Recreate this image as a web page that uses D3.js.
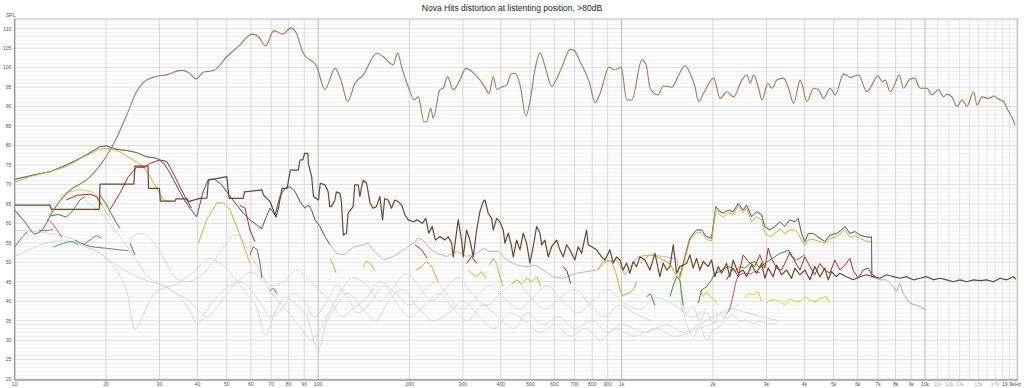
<!DOCTYPE html>
<html>
<head>
<meta charset="utf-8">
<script src="https://cdn.jsdelivr.net/npm/d3@7"></script>
<style>
  body { margin: 0; background: #fff; }
  svg { display: block; font-family: "Liberation Sans", Arial, sans-serif; }
</style>
</head>
<body>
<div id="chart"></div>
<script>
// ---- data (Hz, dB SPL) ----
const title = "Nova Hits distortion at listenting position, >80dB";
const yTicks = [20, 25, 30, 35, 40, 45, 50, 55, 60, 65, 70, 75, 80, 85, 90, 95, 100, 105, 110];
const xTickValues = [10, 20, 30, 40, 50, 60, 70, 80, 90, 100, 200, 300, 400, 500, 600, 700, 800, 900,
  1000, 2000, 3000, 4000, 5000, 6000, 7000, 8000, 9000, 10000, 11000, 12000, 13000, 15000, 17000];
const xTickLabels = ["10", "20", "30", "40", "50", "60", "70", "80", "90", "100", "200", "300", "400", "500",
  "600", "700", "800", "900", "1k", "2k", "3k", "4k", "5k", "6k", "7k", "8k", "9k", "10k", "11k", "12k", "13k", "15k", "17k"];
const endLabel = "19.9kHz";

const fundamental = [[10,63.4],[10.8,60.4],[11.67,57.3],[12.3,58.3],[13.4,63.4],[15.0,68.1],[17.7,71.9],[20.0,77.1],
  [21.8,82.4],[23.4,87.8],[25.2,93.8],[26.5,96.1],[28.6,97.5],[31.7,98.2],[35.5,99.3],[37.3,98.8],[39.6,97.1],
  [42.0,98.9],[45.1,99.2],[50.0,102.8],[55.2,105.8],[60.4,108.6],[63.5,108.0],[67.1,105.6],[71.5,109.5],[76.3,108.6],
  [81.3,110.2],[84.5,109.0],[89.3,103.7],[98.8,100.4],[105.3,94.4],[113.6,99.8],[118.9,96.8],[125.1,91.3],[132.3,96.0],
  [140.8,98.1],[155.8,103.7],[163.9,102.8],[176.8,100.7],[182.8,103.8],[188.4,100.2],[198.1,95.1],[207.4,91.7],
  [213.8,92.5],[223.2,86.1],[227.8,86.1],[234.9,89.6],[239.5,87.0],[251.9,94.3],[258.2,94.7],[267.1,97.7],[278.6,94.3],
  [293.1,96.8],[306.9,99.8],[324.4,98.7],[341.3,96.8],[354.6,95.0],[365.6,93.4],[377.7,97.7],[387.4,94.4],[402.4,95.0],
  [417.8,95.5],[434,98.5],[446,98.5],[463,95.5],[483.9,87.6],[500,91.7],[519,99.8],[539,103.8],[560,100.2],[589,95.1],
  [612,97.3],[636,100.2],[677,104.7],[695,104.5],[730,101.5],[782,96.4],[818,91.0],[850,93.4],[910,100.2],[948,99.4],
  [997,100.1],[1040,91.7],[1081,91.7],[1166,102.0],[1205,100.7],[1242,94.7],[1317,93.0],[1374,95.3],[1466,95.0],
  [1542,98.1],[1621,100.5],[1683,98.5],[1740,95.5],[1794,91.3],[1862,93.4],[2010,97.3],[2113,92.1],[2223,93.8],
  [2339,92.5],[2491,96.8],[2588,98.1],[2655,96.0],[2723,98.1],[2829,94.7],[2900,91.7],[3035,96.0],[3128,94.7],
  [3249,96.8],[3420,97.3],[3550,94.7],[3690,90.8],[3879,96.8],[4082,91.3],[4295,94.7],[4460,94.3],[4630,92.1],
  [4868,94.7],[5057,93.0],[5390,98.4],[5669,97.5],[6040,98.1],[6430,93.8],[6678,95.5],[6990,97.9],[7244,96.4],
  [7387,96.8],[7674,93.8],[7970,96.0],[8216,98.1],[8492,94.7],[8913,97.0],[9235,97.3],[9638,94.7],[10140,94.7],
  [10530,93.0],[11080,94.4],[11510,92.5],[11800,93.2],[12270,92.4],[12740,90.0],[13230,91.7],[13740,90.1],[14460,93.8],
  [14830,90.4],[15400,92.5],[16210,92.1],[16830,92.7],[17470,91.9],[18150,91.3],[18610,89.6],[19220,87.6],[19820,85.3]];

const noise = [[10,64.7],[13.07,64.7],[13.2,63.6],[19.0,63.6],[19.1,70.1],[24.7,70.1],[24.9,74.7],[27.5,74.7],[27.6,69.0],
  [30,69.0],[30.2,65.7],[33.7,65.7],[34,66.3],[37,66.3],[37.3,65.6],[40.8,66.4],[43.0,66.5],[43.5,71.1],[50,72.0],
  [50.9,66.4],[56.6,66.4],[57.2,68.1],[65.3,68.6],[66.0,67.3],[69.4,65.6],[72.6,61.6],[74,64],[76,69],[79,69],[81,73.7],
  [86,73.7],[87.2,76.3],[89,76.3],[90.3,78],[92.5,78],[92.8,75.4],[95.2,72],[96.5,66.9],[100.3,66],[101.6,70.3],
  [105.3,69.9],[107.9,68.1],[109.2,64.3],[110.5,64.3],[113.6,66],[114.8,68.1],[118,67.7],[119.3,65.6],[121,57],
  [124,57.5],[125.5,62.6],[130.4,64.3],[132,69.9],[135.5,69.9],[137.3,66.9],[139.1,69.4],[140.9,71.1],[144.4,70.3],
  [146.4,67.7],[148.3,65.2],[151.5,63.9],[155.6,64.3],[159.8,66.9],[163,60.9],[165.7,66.4],[170,66],[174.4,63.9],
  [178.9,66],[183.6,65.6],[188.4,64.7],[193.2,62.2],[198.1,60.9],[206.4,60.4],[211.7,60.9],[220.4,60],[226.2,61.3],
  [231.5,57.5],[237.6,59.2],[243.4,55.7],[251.9,56.6],[261.7,55.7],[268.3,56.6],[275.4,54.9],[278.7,51.4],[289.5,60.9],
  [297,55.7],[300.7,51.4],[308.5,58.3],[316.4,55.7],[324.4,51.4],[332.9,58.3],[341.3,63.0],[349.9,65.6],[354.5,66.0],
  [363.5,62.6],[373,61.3],[377.6,58.3],[387.4,61.3],[397.2,60.4],[407.3,58.3],[412.6,54.9],[423.1,57.5],[434.1,54.0],
  [439.5,51.4],[450.9,55.7],[462.4,53.2],[474.1,57.5],[486.4,54.9],[498.8,49.8],[511.4,54.0],[524.8,59.2],[538.1,57.5],
  [545.1,54.5],[558.9,55.7],[573.1,51.4],[588.1,54.0],[610.7,55.7],[626.2,53.2],[642.1,51.4],[658.9,54.5],[675.6,53.2],
  [701.6,50.6],[719.4,54.0],[738.2,52.3],[766.8,58.3],[776.2,54.5],[796.5,54.0],[827.3,53.2],[859.3,51.4],[881,50.6],
  [915.1,53.2],[938.4,49.8],[962.7,51.4],[987.2,50.6],[1012,48.0],[1039,49.8],[1065,47.2],[1092,50.2],[1120,48.9],
  [1149,51.4],[1194,50.6],[1240,48.0],[1288,52.3],[1337,46.3],[1371,49.8],[1407,48.0],[1443,48.9],[1480,54.5],
  [1518,47.2],[1556,48.9],[1637,49.7],[1679,51.9],[1721,48.5],[1766,51.0],[1811,48.0],[1858,50.2],[1929,48.9],
  [1979,50.6],[2029,46.3],[2082,48.9],[2135,47.2],[2217,49.7],[2273,46.3],[2332,50.6],[2423,47.2],[2516,48.0],
  [2580,46.3],[2681,49.3],[2784,47.2],[2893,49.7],[2966,45.9],[3042,48.5],[3159,46.3],[3241,49.3],[3366,46.8],
  [3496,48.0],[3632,45.9],[3725,48.5],[3868,46.8],[4018,48.0],[4173,45.5],[4333,48.9],[4502,46.3],[4676,48.5],
  [4796,45.5],[4919,47.6],[5108,46.3],[5239,47.2],[5511,46.3],[5796,45.5],[6098,46.3],[6415,46.8],[6748,46.3],
  [7098,45.9],[7467,46.8],[7856,46.3],[8264,45.9],[8693,46.3],[9145,45.5],[9621,45.9],[10120,46.3],[10646,45.5],
  [11200,45.9],[11782,45.5],[12394,45.0],[13038,45.5],[13716,45.0],[14429,45.5],[15179,45.3],[15965,45.5],
  [16805,45.0],[17676,45.9],[18594,45.5],[19559,46.3],[19900,45.6]];

const thd = [[10,71.3],[11.5,72.4],[13.1,73.3],[14.8,75.0],[16.8,77.1],[19.1,79.7],[20.1,79.9],[21.7,79.0],[23.4,78.7],
  [25.2,78.2],[27.2,77.1],[29.4,76.7],[30.9,75.6],[32.5,72.9],[34.2,69.6],[36.0,66.4],[37.8,63.9],[39.8,61.7],
  [41.8,68.2],[43.5,71.3],[45.7,71.3],[48.1,69.9],[49.9,68.2],[51.9,66.4],[53.9,64.7],[56.7,62.6],[59.6,60.9],
  [62.7,59.6],[65.1,58.7],[69.4,63.9],[72.1,62.2],[74.8,66.9],[77.7,69.0],[80.7,69.4],[83.9,68.2],[87.1,65.6],
  [90.5,63.9],[92.8,64.7],[95.2,63.4],[97.6,60.9],[101.4,59.2],[105.3,56.6],[109.4,54.5],[115.1,52.3],[121,51.9],
  [127.3,53.2],[132.3,54.0],[140.8,54.5],[146.3,54.9],[150,53.6],[153.9,52.8],[163.9,50.6],[176.8,51.5],[190.8,53.2],
  [205.8,54.9],[213.8,56.2],[222,55.7],[230.7,54.0],[245.7,52.3],[265.1,51.5],[285.9,52.8],[308.5,51.5],[332.9,52.3],
  [350,53.6],[368.3,52.8],[392.3,52.8],[417.8,50.6],[450.9,49.3],[486.4,48.9],[518.1,49.3],[551.9,48.0],[595.4,46.3],
  [642.1,45.9],[710.8,47.2],[766.6,47.6],[827.3,48.0],[892.3,50.2],[962.7,50.6],[1026,46.8],[1135,51.5],[1240,51.9],
  [1372,51.5],[1518,51.0],[1556,46.3],[1616,51.4],[1679,56.2],[1766,58.3],[1834,58.3],[1905,56.6],[1979,56.2],
  [2045,64.3],[2108,63.0],[2161,62.6],[2245,63.4],[2332,63.0],[2423,65.1],[2516,63.4],[2580,64.7],[2681,61.7],
  [2784,63.0],[2893,62.2],[2966,59.2],[3080,58.3],[3199,59.2],[3322,60.4],[3451,59.2],[3585,60.9],[3725,60.4],
  [3820,61.3],[3917,57.4],[4018,55.3],[4119,57.4],[4279,57.4],[4502,56.2],[4676,55.3],[4857,57.0],[5108,57.4],
  [5305,58.3],[5441,59.2],[5653,57.4],[5870,57.9],[6098,57.0],[6333,56.6],[6577,56.4],[6660,56.6],[6680,46.3]];
// THD is drawn faded between these two frequencies, as in the reference
const thdFadedFrom = 110, thdFadedTo = 1550;

const h2Segments = [
  [[10,70.5],[11.2,72.0],[13.1,73.3],[14.8,74.6],[16.8,77.0],[19.1,79.1],[20.6,79.2],[22.2,78.4],[24.6,76.3],
   [26.5,74.6],[27.9,72.0],[29.4,69.0],[30.9,66.0],[32.5,65.6]],
  [[40.3,54.9],[42.9,60.9],[46.3,65.2],[48.7,65.3],[51.2,63.5],[53.9,59.2],[56.7,54.5],[59.6,49.8]],
  [[109.4,51.0],[112.2,49.3],[114.6,47.2]],
  [[140.8,48.9],[144.5,50.4],[148.9,49.6],[153.9,47.9]],
  [[210,48.0],[219.3,48.9],[227.8,50.2],[234.8,49.3],[240.8,47.6],[248.8,45.0]],
  [[312.4,48.0],[322.9,47.0],[332.9,46.3],[345.6,47.6],[357.2,45.9]],
  [[366.4,49.3],[377.6,51.0],[387.3,49.7],[397.2,46.3],[407.4,43.8]],
  [[434.1,44.4],[450.9,45.5],[468.3,44.4],[486.4,45.9],[505,45.0],[524.7,46.3],[541,43.8]],
  [[837.5,48.0],[859,49.7],[892.3,50.6],[926.8,50.2],[957.7,47.2],[982.2,43.8],[1007,41.4],[1052,42.0],[1092,42.9],[1120,45.0]],
  [[1149,49.7],[1194,51.0],[1240,51.9],[1304,51.5],[1372,50.6],[1443,49.6],[1498,47.2],[1556,45.9],[1616,50.6],
   [1679,55.7],[1766,57.6],[1834,57.6],[1905,55.9],[1979,55.5],[2045,63.6],[2108,62.2],[2161,61.6],[2245,62.7],
   [2332,62.3],[2423,64.5],[2516,62.8],[2580,63.9],[2681,60.4],[2784,61.7],[2893,60.9],[2966,57.4],[3080,56.6],
   [3199,57.4],[3322,58.5],[3451,57.4],[3585,58.3],[3725,58.3],[3820,57.4],[3917,55.7],[4018,54.4],[4119,55.7],
   [4279,55.9],[4502,55.3],[4676,54.9],[4857,56.1],[5108,56.6],[5305,57.6],[5441,58.3],[5653,56.4],[5870,56.8],
   [6098,56.2],[6333,55.5],[6577,55.3],[6660,55.7]]
];

const paleGold = [[14.1,66.9],[15.0,67.9],[16.4,68.6],[17.7,68.3],[18.7,66.9],[19.8,63.5],[20.6,61.6]];

const h3Segments = [
  [[14.8,66.0],[16.0,67.2],[17.7,67.5],[18.6,66.9],[19.3,64.7]],
  [[20.6,63.5],[22.2,67.7],[23.7,72.0],[25.2,74.4],[26.9,74.4],[27.9,75.4],[30.1,76.3],[31.7,75.9],[33.3,72.9],
   [35.0,69.4],[36.9,66.0],[38.3,63.9]],
  [[55.0,64.7],[57.4,63.9],[59.6,58.3],[61.9,55.3]],
  [[208.4,54.5],[219.3,53.2],[228.9,51.0]],
  [[308.5,49.7],[320.4,51.5],[332.9,49.7]],
  [[642.1,48.9],[662,47.6],[679,44.6]],
  [[2217,45.5],[2332,48.5],[2423,46.3],[2516,51.9],[2614,50.2],[2748,48.9],[2855,51.9],[2966,48.5],[3042,53.6],
   [3120,51.0],[3241,48.5],[3366,48.0],[3496,50.6],[3585,52.7],[3725,50.2],[3868,48.0],[4018,51.4],[4173,48.9],
   [4333,46.8],[4502,49.7],[4676,48.0],[4857,47.2],[5043,50.6],[5239,48.0],[5441,49.3],[5653,51.0],[5796,48.0],
   [6020,45.9],[6254,48.0],[6495,48.5],[6660,47.0],[6918,46.1]]
];

const h4Segments = [
  [[13.1,61.9],[13.9,62.3],[14.8,61.6],[15.6,63.4],[16.4,66.0],[17.0,66.9]],
  [[19.1,67.3],[20.1,64.7],[21.1,61.6],[22.2,58.7]],
  [[24.0,54.9],[24.9,51.9]],
  [[59.6,51.9],[61.1,54.0],[63.0,53.2],[64.3,49.8],[65.3,45.9]],
  [[1209,41.2],[1246,41.9],[1287,39.0]],
  [[1443,41.2],[1480,44.0],[1518,46.3],[1556,45.5],[1596,39.0]],
  [[1788,39.5],[1834,42.9],[1905,43.7],[1979,45.5],[2029,47.2],[2108,47.6],[2189,48.5],[2273,48.9],[2362,47.6],
   [2453,48.9],[2548,48.5],[2647,49.7],[2748,50.2],[2855,48.5],[2966,49.7],[3080,50.6],[3199,51.4],[3322,52.3],
   [3451,52.7],[3540,53.2],[3632,51.4],[3772,50.6],[3917,51.4],[4018,51.9]]
];

const h5Segments = [
  [[10.0,53.9],[10.4,55.7],[11.0,57.9]],
  [[12.8,61.1],[13.2,60.2],[13.8,58.3],[14.3,56.4]],
  [[16.8,54.5],[17.7,55.7],[18.6,56.8],[19.3,56.2]],
  [[69,42.5],[71.2,43.3],[73,41.8]],
  [[2217,36.9],[2273,38.2],[2332,41.6],[2392,45.5],[2453,46.8],[2548,47.2],[2647,47.0],[2748,47.6],[2855,47.3]]
];

const h6Segments = [
  [[13.4,53.9],[14.5,54.9],[15.4,55.3],[16.2,54.5]]
];

const slateSegments = [
  [[12.0,58.3],[12.6,58.1],[13.4,58.5]],
  [[15.8,55.7],[17.0,54.5],[18.4,53.9],[20.1,53.6],[22.2,53.2],[23.7,53.0]]
];

const h7Segments = [
  [[1811,42.9],[1858,41.2],[1905,42.5],[1953,41.2],[2004,40.7],[2082,39.0]],
  [[2548,40.7],[2614,42.0],[2715,41.6],[2820,42.5],[2893,39.9]],
  [[3005,39.5],[3080,40.3],[3241,40.3],[3322,39.9],[3451,39.0],[3585,40.7],[3725,39.9],[3868,39.9],[4018,41.2],
   [4173,40.3],[4333,39.9],[4502,40.7],[4733,41.2],[4857,39.5]]
];

const greyLines = [
  [[10,58.3],[12,57.8],[14,57],[16,55.5],[18,53.5],[20,51],[22,47],[23.5,42],[24.9,32.6],[26,35],[28,40.5],[30,43],
   [33,44],[36,45.5],[40,48.5],[44,51],[48,49.5],[53,46],[58,42],[63,38],[67,31.3],[72,37],[78,41],[85,39],[92,36],
   [100,27.5],[106,34],[115,39],[125,42],[140,38],[155,35],[170,40],[190,43],[210,39],[240,35],[270,37],[300,40],
   [340,36],[380,33],[430,37],[480,35],[540,32],[600,34],[680,31],[760,33],[850,30],[950,33],[1100,31],[1300,33],
   [1500,31],[1800,33],[2100,35]],
  [[10,51.5],[11,53],[12.5,54.8],[14,55.5],[15.5,55.3],[17,54],[19,52.5],[21,50],[23,48],[25,46.5],[28,45],[31,44],
   [34,42],[37,40.5],[40,38],[43,36],[46,38],[50,42],[55,45],[60,43],[65,39],[70,36],[76,38],[83,42],[90,40],[97,36],
   [105,39],[115,44],[125,41],[135,37],[150,40],[165,44],[180,40],[200,36],[225,39],[250,42],[280,38],[310,35],
   [350,39],[390,36],[440,33],[490,37],[550,34],[620,36],[700,33],[800,35],[900,32],[1000,34],[1200,32],[1400,34],
   [1600,32],[1800,34],[2000,36],[2300,38],[2600,37],[2900,36],[3300,35]],
  [[17,66],[19,63],[21,59],[23,55],[25,51],[27,47],[29,45],[32,43.5],[35,41],[38,37],[40,34],[42,36.5],[45,40],
   [49,43],[54,45],[60,47.5],[66,45],[72,41],[80,37],[88,33],[95,30],[100,32],[110,38],[120,43],[130,46],[145,44],
   [160,40],[175,43],[195,47],[215,44],[235,40],[260,43],[290,46],[320,42],[360,39],[400,42],[450,45],[500,41],
   [560,38],[630,41],[700,43],[790,39],[880,36],[980,39],[1100,37],[1250,35]],
  [[24,56],[26,57.5],[28,56],[30,53],[32,49],[34,46],[37,45],[40,46],[43,48],[47,52],[50,55],[53,57],[56,56],[60,52],
   [65,47],[70,44],[77,45],[85,48],[92,46],[100,43],[110,40],[120,36],[130,38],[145,41],[160,45],[180,42],[200,39],
   [220,42],[245,45],[270,41],[300,38],[330,41],[370,44],[410,41],[460,38],[510,41],[570,44],[640,40],[720,37],
   [800,40],[900,43],[1000,40],[1150,38],[1300,41],[1500,39],[1700,36],[1900,38]],
  [[1556,42.9],[1637,36.9],[1721,38.6],[1811,35.2],[1905,37.3],[2004,34.3],[2108,36.9],[2217,35.6],[2332,36.5],
   [2453,34.8],[2580,35.2],[2715,34.3],[2855,34.8],[3005,34.3],[3159,34.1],[3281,34.8]],
  [[1556,40.3],[1637,34.3],[1721,30.9],[1811,33.5],[1905,30.0],[2004,32.6],[2108,33.5],[2189,36.0],[2273,37.7],
   [2362,38.6],[2453,39.5]]
];

const greyTail = [[6660,46.3],[7098,45.5],[7467,45.5],[7856,43.7],[8051,42.5],[8264,44.6],[8469,42.0],[8910,39.5],
  [9372,39.0],[9859,38.2],[10110,37.7]];

// ---- layout ----
const width = 1024, height = 388;
const plotLeft = 14.7, plotRight = 1017.7, plotTop = 19, plotBottom = 380;

const svg = d3.select("#chart").append("svg")
  .attr("width", width)
  .attr("height", height);

const xScale = d3.scaleLog().domain([10, 20200]).range([plotLeft, plotRight]);
const yScale = d3.scaleLinear().domain([20, 110]).range([379.1, 28.7]);

svg.append("text")
  .attr("x", 512).attr("y", 10.5)
  .attr("text-anchor", "middle")
  .attr("font-size", 8.5)
  .attr("fill", "#222")
  .text(title);

// grid
const grid = svg.append("g").attr("class", "grid");
const minorDb = d3.range(20, 113, 1);
grid.selectAll("line.h").data(minorDb).join("line")
  .attr("x1", plotLeft).attr("x2", plotRight)
  .attr("y1", d => yScale(d)).attr("y2", d => yScale(d))
  .attr("stroke", d => d % 5 === 0 ? "#d6d6d6" : "#ebebeb")
  .attr("stroke-width", 0.8);

const vLines = [];
[10, 100, 1000].forEach(dec => { for (let m = 1; m < 10; m++) vLines.push(dec * m); });
for (let k = 10000; k <= 20000; k += 1000) vLines.push(k);
grid.selectAll("line.v").data(vLines).join("line")
  .attr("x1", d => xScale(d)).attr("x2", d => xScale(d))
  .attr("y1", plotTop).attr("y2", plotBottom)
  .attr("stroke", d => (d === 100 || d === 1000 || d === 10000) ? "#b4b4b4" : (d > 10000 ? "#e2e2e2" : "#d4d4d4"))
  .attr("stroke-width", 0.9);

// frame
svg.append("rect")
  .attr("x", plotLeft).attr("y", plotTop)
  .attr("width", plotRight - plotLeft).attr("height", plotBottom - plotTop)
  .attr("fill", "none").attr("stroke", "#b8b8b8").attr("stroke-width", 1);
svg.append("line").attr("x1", plotLeft).attr("x2", plotLeft).attr("y1", plotTop).attr("y2", plotBottom)
  .attr("stroke", "#8a8a8a");
svg.append("line").attr("x1", plotLeft).attr("x2", plotRight).attr("y1", plotBottom).attr("y2", plotBottom)
  .attr("stroke", "#8a8a8a");

// y labels
svg.append("g").selectAll("text").data(yTicks).join("text")
  .attr("x", 11.5).attr("y", d => yScale(d) + 1.8)
  .attr("text-anchor", "end")
  .attr("font-size", 5.2)
  .attr("fill", "#555")
  .text(d => d);
svg.append("text").attr("x", 6).attr("y", 16.5)
  .attr("font-size", 5).attr("fill", "#555").text("SPL");

// x labels
svg.append("g").selectAll("text").data(xTickValues).join("text")
  .attr("x", d => xScale(d)).attr("y", 386)
  .attr("text-anchor", "middle")
  .attr("font-size", 5.2)
  .attr("fill", d => d > 10000 ? "#b0b0b0" : "#555")
  .text((d, i) => xTickLabels[i]);
svg.append("text").attr("x", 1021).attr("y", 386)
  .attr("text-anchor", "end").attr("font-size", 5.2).attr("fill", "#555").text(endLabel);

// curves
svg.append("clipPath").attr("id", "plotclip").append("rect")
  .attr("x", plotLeft).attr("y", plotTop).attr("width", plotRight - plotLeft).attr("height", plotBottom - plotTop);
const plot = svg.append("g").attr("clip-path", "url(#plotclip)");

const smooth = d3.line().x(d => xScale(d[0])).y(d => yScale(d[1])).curve(d3.curveMonotoneX);
const straight = d3.line().x(d => xScale(d[0])).y(d => yScale(d[1]));

function draw(data, gen, color, w) {
  plot.append("path")
    .attr("d", gen(data))
    .attr("fill", "none")
    .attr("stroke", color)
    .attr("stroke-width", w)
    .attr("stroke-linejoin", "round");
}

greyLines.forEach(g => draw(g, smooth, "#d2d2d2", 0.9));
draw(greyTail, straight, "#a8a8a8", 0.9);
// THD: faded in the middle, dark at both ends
draw(thd, straight, "#a4a7b2", 0.8);
draw(thd.filter(d => d[0] <= thdFadedFrom), straight, "#55596a", 0.9);
draw(thd.filter(d => d[0] >= thdFadedTo), straight, "#55596a", 0.9);
h7Segments.forEach(s => draw(s, straight, "#d6d022", 1));
h6Segments.forEach(s => draw(s, smooth, "#3a9c9c", 1));
slateSegments.forEach(s => draw(s, smooth, "#707888", 1));
h5Segments.forEach(s => draw(s, smooth, "#c43ec8", 1));
h4Segments.forEach(s => draw(s, straight, "#3c8a34", 1));
draw(paleGold, smooth, "#e8c65a", 1);
h2Segments.forEach(s => draw(s, straight, "#e0a828", 1));
h3Segments.forEach(s => draw(s, straight, "#b42424", 1));
draw(noise, straight, "#6e4526", 1.2);
draw(fundamental, smooth, "#a6774f", 1.1);
</script>
</body>
</html>
